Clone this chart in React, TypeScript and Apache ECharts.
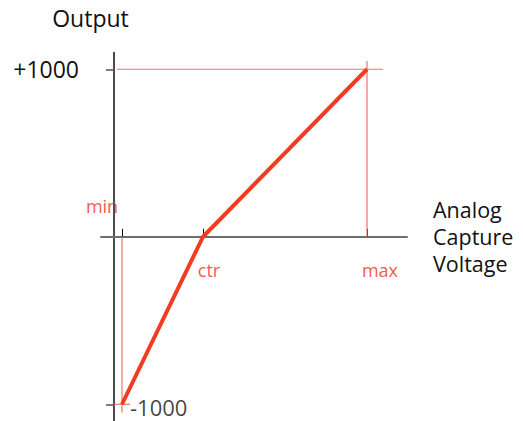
import React, { useEffect, useRef } from "react";
import * as echarts from "echarts";

// Axis ranges (arbitrary voltage units on x, output on y)
const xRange = [-13, 293];
const yRange = [-1100, 1100];

// Calibration points (voltage)
const calNames = ["min", "ctr", "max"];
const calVoltages = [8, 89, 253];

// Output values at calibration points
const outputValues = [-1000, 0, 1000];

// Y tick values
const yTickValues = [-1000, 1000];

// Reference (guide) lines
const guideTop = [
  [3, 1000],
  [269, 1000],
];
const guideMax = [
  [253, 0],
  [253, 1049],
];
const guideMin = [
  [8, 0],
  [8, -1049],
];
const guideBottom = [
  [0, -1000],
  [16, -1000],
];

const FONT = "Open Sans";
const RED = "#f23c22";
const LABEL_RED = "#ee2e18";
const GUIDE = "#ef7464";

export default function App() {
  const ref = useRef<HTMLDivElement>(null);

  useEffect(() => {
    if (!ref.current) return;
    document.body.style.margin = "0";
    const chart = echarts.init(ref.current, null, { renderer: "svg" });

    const transfer = calVoltages.map((v, i) => [v, outputValues[i]]);
    const labelOffsets = [
      [-20, -31],
      [6, 33],
      [13, 33],
    ];

    const guideSeries = [guideTop, guideMax, guideMin, guideBottom].map((d) => ({
      type: "line",
      data: d,
      symbol: "none",
      silent: true,
      lineStyle: { color: GUIDE, width: 1.2 },
      z: 1,
    }));

    chart.setOption({
      animation: false,
      tooltip: { show: false },
      grid: { left: 101, width: 306, top: 52.5, height: 370 },
      xAxis: {
        type: "value",
        min: xRange[0],
        max: xRange[1],
        name: "Analog\nCapture\nVoltage",
        nameLocation: "end",
        nameGap: 26,
        nameTextStyle: {
          fontFamily: FONT,
          fontSize: 21.5,
          color: "#111",
          align: "left",
          verticalAlign: "middle",
          lineHeight: 27,
        },
        axisLine: { onZero: true, lineStyle: { color: "#6e6e6e", width: 2 } },
        axisTick: {
          show: true,
          inside: true,
          length: 8,
          customValues: calVoltages,
          lineStyle: { color: "#111", width: 1 },
        },
        axisLabel: { show: false },
        splitLine: { show: false },
      },
      yAxis: {
        type: "value",
        min: yRange[0],
        max: yRange[1],
        name: "Output",
        nameLocation: "end",
        nameGap: 23,
        nameTextStyle: {
          fontFamily: FONT,
          fontSize: 23,
          color: "#111",
          align: "center",
          padding: [0, 47, 0, 0],
        },
        axisLine: { onZero: true, lineStyle: { color: "#111", width: 1.5 } },
        axisTick: {
          show: true,
          length: 8,
          customValues: yTickValues,
          lineStyle: { color: "#555", width: 1.5 },
        },
        axisLabel: {
          show: true,
          customValues: [yTickValues[1]],
          formatter: (v: number) => "+" + v,
          margin: 22,
          fontFamily: FONT,
          fontSize: 23,
          color: "#111",
        },
        splitLine: { show: false },
      },
      series: [
        ...guideSeries,
        {
          type: "line",
          data: transfer,
          symbol: "none",
          silent: true,
          lineStyle: { color: RED, width: 4 },
          z: 3,
        },
        {
          type: "scatter",
          symbolSize: 0,
          silent: true,
          data: calVoltages.map((v, i) => ({
            value: [v, 0],
            label: {
              show: true,
              formatter: calNames[i],
              position: "inside",
              offset: labelOffsets[i],
              color: LABEL_RED,
              fontFamily: FONT,
              fontSize: 18,
            },
          })),
        },
        {
          type: "scatter",
          symbolSize: 0,
          silent: true,
          data: [
            {
              value: [0, yTickValues[0]],
              label: {
                show: true,
                formatter: String(yTickValues[0]),
                position: "right",
                distance: 16,
                offset: [0, 3],
                color: "#111",
                fontFamily: FONT,
                fontSize: 22,
                lineHeight: 20,
              },
            },
          ],
        },
      ],
    });

    return () => chart.dispose();
  }, []);

  return <div ref={ref} style={{ width: 523, height: 421, background: "#fff" }} />;
}
